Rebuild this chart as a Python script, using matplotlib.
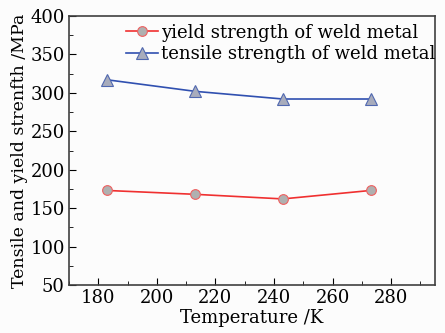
import matplotlib
matplotlib.use("Agg")
import matplotlib.pyplot as plt
from matplotlib.ticker import MultipleLocator

temperature = [183, 213, 243, 273]
yield_strength = [173, 168, 162, 173]
tensile_strength = [317, 302, 292, 292]

plt.rcParams['font.family'] = ['DejaVu Serif']
plt.rcParams['mathtext.fontset'] = 'dejavuserif'

fig = plt.figure(figsize=(4.45, 3.33), dpi=100)
fig.patch.set_facecolor('#fcfcfc')
ax = fig.add_axes([69 / 445, 1 - 285 / 333, 366 / 445, 269 / 333])
ax.set_facecolor('#fcfcfc')

ax.plot(temperature, yield_strength, color='#f03030', lw=1.2, marker='o', ms=7,
        mfc='#b0b0b0', mec='#f06060', mew=0.8, label='yield strength of weld metal')
ax.plot(temperature, tensile_strength, color='#3050b0', lw=1.2, marker='^', ms=8,
        mfc='#a8acbc', mec='#5068b0', mew=0.8, label='tensile strength of weld metal')

ax.set_xlim(170, 295)
ax.set_ylim(50, 400)
ax.xaxis.set_major_locator(MultipleLocator(20))
ax.xaxis.set_minor_locator(MultipleLocator(10))
ax.yaxis.set_major_locator(MultipleLocator(50))
ax.yaxis.set_minor_locator(MultipleLocator(25))
ax.tick_params(which='both', direction='in', labelsize=13, top=False, right=False)
ax.tick_params(which='major', length=5, pad=3)
ax.tick_params(which='minor', length=3)
for s in ax.spines.values():
    s.set_color('#404040')
    s.set_linewidth(1.2)

ax.set_xlabel('Temperature /K', fontsize=13, labelpad=1)
ax.set_ylabel('Tensile and yield strenfth /MPa', fontsize=12.5, labelpad=2)

ax.legend(loc='upper left', bbox_to_anchor=(0.125, 1.012), frameon=False, fontsize=13,
          handlelength=1.8, handletextpad=0.15, labelspacing=0.2, borderaxespad=0.2)

fig.savefig('out.png', dpi=100, facecolor=fig.get_facecolor())
